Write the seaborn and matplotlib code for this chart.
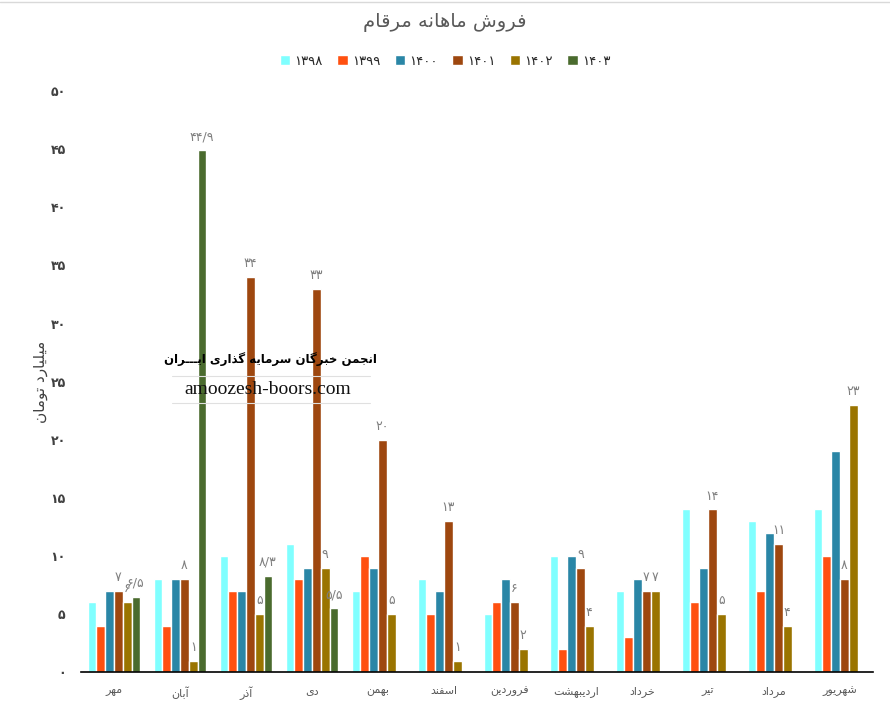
import pandas as pd
import matplotlib
matplotlib.use('Agg')
import matplotlib.pyplot as plt
import seaborn as sns
from matplotlib.lines import Line2D

# monthly sales (billion toman)
months = ['مهر', 'آبان', 'آذر', 'دی', 'بهمن', 'اسفند', 'فروردین',
          'اردیبهشت', 'خرداد', 'تیر', 'مرداد', 'شهریور']
years = ['1398', '1399', '1400', '1401', '1402', '1403']
s1398 = [6, 8, 10, 11, 7, 8, 5, 10, 7, 14, 13, 14]
s1399 = [4, 4, 7, 8, 10, 5, 6, 2, 3, 6, 7, 10]
s1400 = [7, 8, 7, 9, 9, 7, 8, 10, 8, 9, 12, 19]
s1401 = [7, 8, 34, 33, 20, 13, 6, 9, 7, 14, 11, 8]
s1402 = [6, 1, 5, 9, 5, 1, 2, 4, 7, 5, 4, 23]
s1403 = [6.5, 44.9, 8.3, 5.5, None, None, None, None, None, None, None, None]
colors = ['#80FFFF', '#FF5010', '#2A86A6', '#9E470F', '#9A7400', '#4A6B2E']
labelled = ['1401', '1402', '1403']

# --- minimal persian shaping (matplotlib has no bidi / joining) ---
FORMS = {
    'ا': ('\uFE8D', '\uFE8E', None, None), 'آ': ('\uFE81', '\uFE82', None, None),
    'ب': ('\uFE8F', '\uFE90', '\uFE91', '\uFE92'), 'پ': ('\uFB56', '\uFB57', '\uFB58', '\uFB59'),
    'ت': ('\uFE95', '\uFE96', '\uFE97', '\uFE98'), 'ج': ('\uFE9D', '\uFE9E', '\uFE9F', '\uFEA0'),
    'خ': ('\uFEA5', '\uFEA6', '\uFEA7', '\uFEA8'), 'د': ('\uFEA9', '\uFEAA', None, None),
    'ذ': ('\uFEAB', '\uFEAC', None, None), 'ر': ('\uFEAD', '\uFEAE', None, None),
    'ز': ('\uFEAF', '\uFEB0', None, None), 'س': ('\uFEB1', '\uFEB2', '\uFEB3', '\uFEB4'),
    'ش': ('\uFEB5', '\uFEB6', '\uFEB7', '\uFEB8'), 'ف': ('\uFED1', '\uFED2', '\uFED3', '\uFED4'),
    'ق': ('\uFED5', '\uFED6', '\uFED7', '\uFED8'), 'ک': ('\uFB8E', '\uFB8F', '\uFB90', '\uFB91'),
    'گ': ('\uFB92', '\uFB93', '\uFB94', '\uFB95'), 'ل': ('\uFEDD', '\uFEDE', '\uFEDF', '\uFEE0'),
    'م': ('\uFEE1', '\uFEE2', '\uFEE3', '\uFEE4'), 'ن': ('\uFEE5', '\uFEE6', '\uFEE7', '\uFEE8'),
    'و': ('\uFEED', '\uFEEE', None, None), 'ه': ('\uFEE9', '\uFEEA', '\uFEEB', '\uFEEC'),
    'ی': ('\uFBFC', '\uFBFD', '\uFBFE', '\uFBFF'),
}
TATWEEL = '\u0640'


def joins_left(c):
    return c == TATWEEL or (c in FORMS and FORMS[c][2] is not None)


def fa(text):
    out = []
    for i, c in enumerate(text):
        if c not in FORMS:
            out.append(c)
            continue
        prev = text[i - 1] if i > 0 else ''
        nxt = text[i + 1] if i + 1 < len(text) else ''
        p = joins_left(prev)
        n = joins_left(c) and (nxt in FORMS or nxt == TATWEEL)
        iso, fin, ini, med = FORMS[c]
        if p and n:
            out.append(med)
        elif p:
            out.append(fin)
        elif n:
            out.append(ini)
        else:
            out.append(iso)
    return ''.join(out)[::-1]


def fa_num(v):
    return f'{v:g}'.translate(str.maketrans('0123456789.', '۰۱۲۳۴۵۶۷۸۹/'))


sns.set_style('white')
plt.rcParams['font.family'] = ['DejaVu Sans']

series = [s1398, s1399, s1400, s1401, s1402, s1403]
rows = []
for y, vals in zip(years, series):
    for m, v in zip(months, vals):
        if v is not None:
            rows.append({'month': fa(m), 'year': fa_num(int(y)), 'value': v})
df = pd.DataFrame(rows)
hue_order = [fa_num(int(y)) for y in years]

fig = plt.figure(figsize=(8.9, 7.12), dpi=100)
ax = fig.add_axes([0.091, 0.056, 0.89, 0.816])
sns.barplot(data=df, x='month', y='value', hue='year', hue_order=hue_order,
            order=[fa(m) for m in months], palette=colors, saturation=1,
            width=0.8, ax=ax)

for y, cont in zip(hue_order, ax.containers):
    if y in [fa_num(int(l)) for l in labelled]:
        ax.bar_label(cont, labels=[fa_num(v) for v in cont.datavalues],
                     padding=5, color='#7f7f7f', fontsize=9)

ax.set_ylim(0, 50)
ax.set_xlim(-0.5, 11.5)
ax.set_yticks(range(0, 51, 5))
ax.set_yticklabels([fa_num(t) for t in range(0, 51, 5)], fontsize=9,
                   fontweight='bold', color='#404040')
ax.tick_params(axis='y', length=0, pad=11)
ax.tick_params(axis='x', length=0, pad=10, labelsize=8, labelcolor='#595959')
ax.set_xlabel('')
ax.set_ylabel(fa('میلیارد تومان'), fontsize=11, color='#404040', labelpad=2)
for side in ['left', 'right', 'top']:
    ax.spines[side].set_visible(False)
ax.spines['bottom'].set_color('black')
ax.spines['bottom'].set_linewidth(1.2)

ax.legend(loc='upper center', bbox_to_anchor=(0.5, 0.94), bbox_transform=fig.transFigure,
          ncol=6, frameon=False, fontsize=9.5, handlelength=0.8, handleheight=0.8,
          columnspacing=1.1, handletextpad=0.3)

fig.text(0.5, 1 - 22 / 712, fa('فروش ماهانه مرقام'), ha='center', va='center',
         fontsize=14, color='#595959')

# watermark
fig.text(270 / 890, 1 - 359 / 712, fa('انجمن خبرگان سرمایه گذاری ایـــران'),
         ha='center', va='center', fontsize=8.5, fontweight='bold', color='black')
fig.text(268 / 890, 1 - 389 / 712, 'amoozesh-boors.com', ha='center', va='center',
         fontsize=14, family='Liberation Serif', color='#111111')
for yy in [376, 403]:
    fig.add_artist(Line2D([172 / 890, 370 / 890], [1 - yy / 712, 1 - yy / 712],
                          color='#e0e0e0', lw=0.8))
fig.add_artist(Line2D([0, 1], [1 - 2 / 712, 1 - 2 / 712], color='#d9d9d9', lw=1))

fig.savefig('out.png', dpi=100)
